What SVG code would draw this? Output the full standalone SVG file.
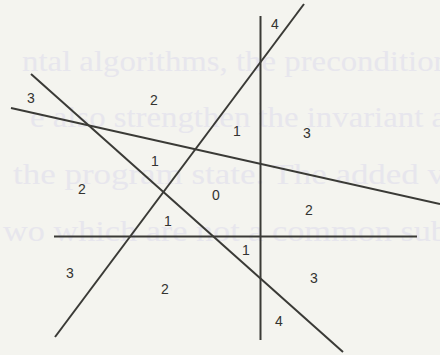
<svg xmlns="http://www.w3.org/2000/svg" width="440" height="355" viewBox="0 0 440 355">
  <style>
    .ghost { font-family: "Liberation Serif", "DejaVu Serif", serif; font-size: 30px; fill: #e7e6ed; }
    .ln { stroke: #3a3a36; stroke-width: 2; fill: none; stroke-linecap: butt; }
    .lbl { font-family: "Liberation Sans", "DejaVu Sans", sans-serif; font-size: 14px; fill: #333330; text-anchor: middle; }
  </style>
  <rect width="440" height="355" fill="#f4f4ef"/>
  <g id="ghost-text">
    <text class="ghost" x="22" y="71" textLength="428" lengthAdjust="spacingAndGlyphs">ntal algorithms, the precondition</text>
    <text class="ghost" x="30" y="127" textLength="416" lengthAdjust="spacingAndGlyphs">e also strengthen the invariant a</text>
    <text class="ghost" x="13" y="184" textLength="432" lengthAdjust="spacingAndGlyphs">the program state. The added v</text>
    <text class="ghost" x="3" y="241" textLength="445" lengthAdjust="spacingAndGlyphs">wo which are not a common sub</text>
  </g>
  <g id="lines">
    <line class="ln" x1="260.5" y1="16" x2="260.5" y2="340"/>
    <line class="ln" x1="304" y1="4" x2="55" y2="337"/>
    <line class="ln" x1="11" y1="108" x2="440" y2="204"/>
    <line class="ln" x1="31" y1="74" x2="343" y2="352"/>
    <line class="ln" x1="54" y1="236.5" x2="417" y2="236.5"/>
  </g>
  <g id="labels">
    <text class="lbl" x="275" y="29">4</text>
    <text class="lbl" x="31" y="103">3</text>
    <text class="lbl" x="154" y="105">2</text>
    <text class="lbl" x="237" y="136">1</text>
    <text class="lbl" x="307" y="138">3</text>
    <text class="lbl" x="155" y="166">1</text>
    <text class="lbl" x="82" y="194">2</text>
    <text class="lbl" x="216" y="200">0</text>
    <text class="lbl" x="309" y="215">2</text>
    <text class="lbl" x="168" y="226">1</text>
    <text class="lbl" x="246" y="255">1</text>
    <text class="lbl" x="70" y="278">3</text>
    <text class="lbl" x="314" y="283">3</text>
    <text class="lbl" x="165" y="294">2</text>
    <text class="lbl" x="279" y="326">4</text>
  </g>
</svg>
